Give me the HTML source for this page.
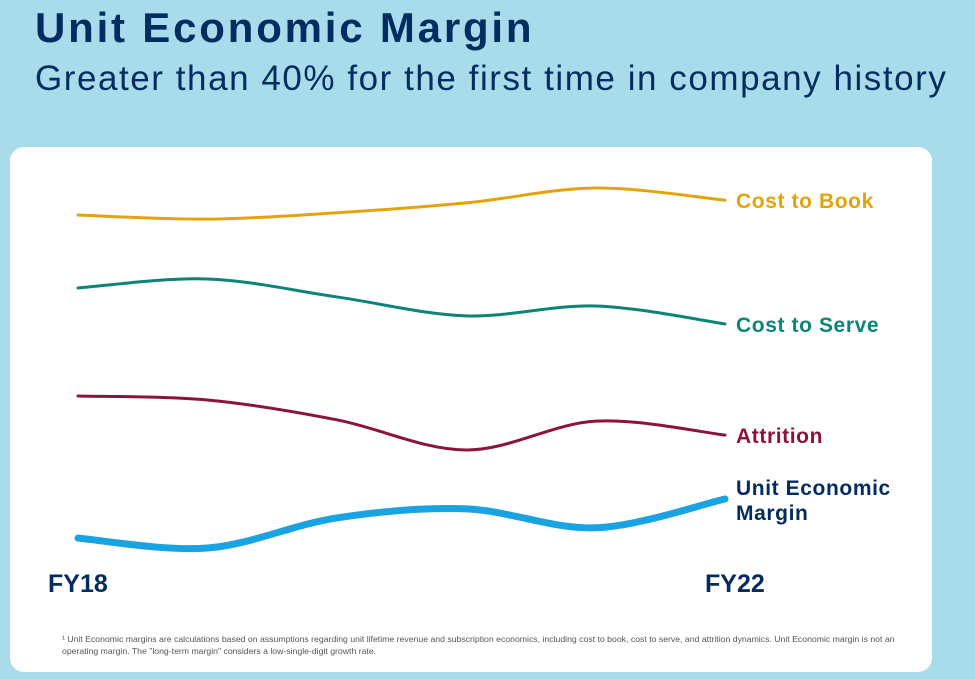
<!DOCTYPE html>
<html><head><meta charset="utf-8"><style>
body{margin:0;width:975px;height:679px;overflow:hidden;background:#a9dcea;font-family:"Liberation Sans",sans-serif;position:relative}
h1{position:absolute;left:35px;top:4px;margin:0;font-size:42px;font-weight:bold;color:#032d60;letter-spacing:2.8px}
h2{position:absolute;left:35px;top:59px;margin:0;font-size:35px;font-weight:normal;color:#032d60;letter-spacing:1.55px;white-space:nowrap}
.card{position:absolute;left:10px;top:147px;width:922px;height:525px;background:#fff;border-radius:14px}
.fn{position:absolute;left:62px;top:633px;width:860px;font-size:8.7px;line-height:12px;color:#555}
</style></head><body>
<h1>Unit Economic Margin</h1>
<h2>Greater than 40% for the first time in company history</h2>
<div class="card"></div>
<svg id="chart" width="975" height="679" style="position:absolute;left:0;top:0"></svg>
<div class="fn">¹ Unit Economic margins are calculations based on assumptions regarding unit lifetime revenue and subscription economics, including cost to book, cost to serve, and attrition dynamics. Unit Economic margin is not an operating margin. The "long-term margin" considers a low-single-digit growth rate.</div>
<script>
const categories=["FY18","FY19","FY20","FY21","FY22a","FY22"];
const costToBook=[81.1,80.2,81.6,83.8,87.1,84.4];
const costToServe=[64.9,66.9,62.9,58.7,60.9,56.9];
const attrition=[40.9,40,35.6,28.9,35.3,32.2];
const unitMargin=[9.3,7.1,13.8,15.8,11.6,18];
const tickLabels=["FY18","FY22"];
const xPos=i=>78+i*(725-78)/(categories.length-1);
const yPos=v=>580-v*4.5;
const svg=document.getElementById('chart');
const NS="http://www.w3.org/2000/svg";
function path(vals){
  const p=vals.map((v,i)=>[xPos(i),yPos(v)]);
  let d=`M${p[0][0]},${p[0][1]}`;
  for(let i=0;i<p.length-1;i++){
    const p0=p[i-1]||p[i],p1=p[i],p2=p[i+1],p3=p[i+2]||p2;
    const c1=[p1[0]+(p2[0]-p0[0])/6,p1[1]+(p2[1]-p0[1])/6];
    const c2=[p2[0]-(p3[0]-p1[0])/6,p2[1]-(p3[1]-p1[1])/6];
    d+=` C${c1[0]},${c1[1]} ${c2[0]},${c2[1]} ${p2[0]},${p2[1]}`;
  }
  return d;
}
const series=[
 [costToBook,"#e3a30b",3,"Cost to Book","line-cost-to-book"],
 [costToServe,"#0c8577",3,"Cost to Serve","line-cost-to-serve"],
 [attrition,"#8a1538",3,"Attrition","line-attrition"],
 [unitMargin,"#19a3e0",7,"Unit Economic|Margin","line-unit-economic-margin"]];
series.forEach(s=>{
  const el=document.createElementNS(NS,'path');
  el.setAttribute('d',path(s[0]));el.setAttribute('fill','none');
  el.setAttribute('stroke',s[1]);el.setAttribute('stroke-width',s[2]);el.setAttribute('stroke-linecap','round');
  
  
  svg.appendChild(el);
  const last=s[0][s[0].length-1];
  const lines=s[3].split('|');
  const t=document.createElementNS(NS,'text');
  const ty=yPos(last)+(lines.length>1?-4:8);
  t.setAttribute('x',736);t.setAttribute('y',ty);
  t.setAttribute('font-size','21');t.setAttribute('font-weight','bold');t.setAttribute('letter-spacing','0.6');
  t.setAttribute('fill',lines.length>1?'#032d60':s[1]);
  lines.forEach((l,k)=>{const ts=document.createElementNS(NS,'tspan');ts.setAttribute('x',736);ts.setAttribute('dy',k?25:0);ts.textContent=l;t.appendChild(ts);});
  
  
  svg.appendChild(t);
});
tickLabels.forEach((l,k)=>{
  const t=document.createElementNS(NS,'text');
  t.setAttribute('x',k?705:48);t.setAttribute('y',592);
  t.setAttribute('font-size','25');t.setAttribute('font-weight','bold');t.setAttribute('fill','#032d60');
  t.textContent=l;
  
  
  svg.appendChild(t);
});
</script>
</body></html>
